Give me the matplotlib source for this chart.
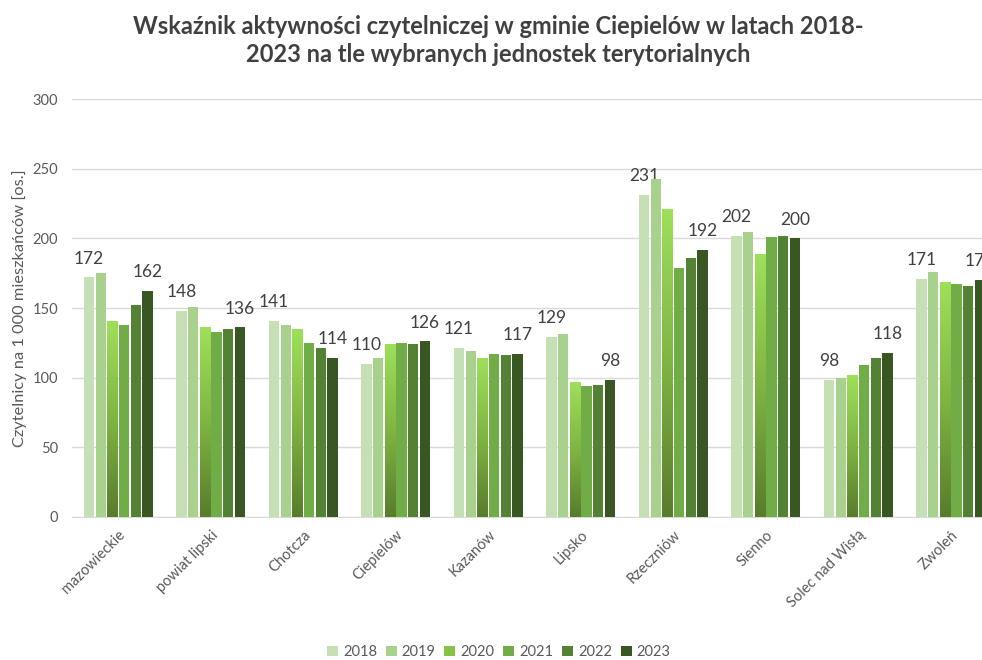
import matplotlib
matplotlib.use("Agg")
import matplotlib.pyplot as plt
import numpy as np
from matplotlib.colors import LinearSegmentedColormap

plt.rcParams['font.family'] = ['Lato', 'DejaVu Sans']

categories = ["mazowieckie", "powiat lipski", "Chotcza", "Ciepielów", "Kazanów",
              "Lipsko", "Rzeczniów", "Sienno", "Solec nad Wisłą", "Zwoleń"]
years = ["2018", "2019", "2020", "2021", "2022", "2023"]
v2018 = [172, 148, 141, 110, 121, 129, 231, 202, 98, 171]
v2019 = [175, 151, 138, 114, 119, 131, 243, 205, 99.5, 176]
v2020 = [140.5, 136, 135, 124, 114, 97, 221, 189, 102, 168.5]
v2021 = [138, 133, 125, 125, 117, 94, 179, 201, 109, 167]
v2022 = [152, 135, 121, 124, 116, 95, 186, 202, 114, 166]
v2023 = [162, 136, 114, 126, 117, 98, 192, 200, 118, 170]
series = [v2018, v2019, v2020, v2021, v2022, v2023]
colors = ["#c5e0b4", "#a9d18e", "#8cc54a", "#70ad47", "#548235", "#385723"]
labeled = {"2018", "2023"}

fig = plt.figure(figsize=(9.82, 6.6), dpi=100)
ax = fig.add_axes([72 / 982, 0.2171, 925 / 982, 0.6324])

x = np.arange(len(categories))
pitch = 0.126
width = 0.112
grad_cmap = LinearSegmentedColormap.from_list("g", ["#587c2c", "#7fb542", "#9ee05a"])
grad = np.linspace(0, 1, 256).reshape(-1, 1)

handles = []
for i, (yr, vals) in enumerate(zip(years, series)):
    pos = x + (i - 2.5) * pitch
    bars = ax.bar(pos, vals, width=width, color=colors[i], zorder=3, label=yr,
                  edgecolor="none")
    handles.append(bars)
    if yr == "2020":
        for b in bars:
            x0, w, h = b.get_x(), b.get_width(), b.get_height()
            im = ax.imshow(grad, extent=[x0, x0 + w, 0, h], origin="lower",
                           cmap=grad_cmap, aspect="auto", zorder=4)
            im.set_clip_path(b)
    if yr in labeled:
        for p, v in zip(pos, vals):
            ax.annotate(f"{v:g}", (p, v), xytext=(0, 10), textcoords="offset points",
                        ha="center", va="baseline", fontsize=12.5, color="#404040",
                        annotation_clip=False)

ax.set_xlim(-0.5, len(categories) - 0.5)
ax.set_ylim(0, 300)
ax.set_yticks(np.arange(0, 301, 50))
ax.grid(axis="y", color="#d9d9d9", linewidth=1, zorder=0)
ax.set_axisbelow(True)
for s in ["top", "right", "left"]:
    ax.spines[s].set_visible(False)
ax.spines["bottom"].set_color("#d9d9d9")
ax.tick_params(axis="both", length=0, colors="#595959", labelsize=10.5)
ax.tick_params(axis="y", pad=10)
ax.set_xticks(x)
ax.set_xticklabels(categories, rotation=45, ha="right", rotation_mode="anchor")
ax.tick_params(axis="x", pad=8)
ax.set_ylabel("Czytelnicy na 1 000 mieszkańców [os.]", color="#595959", fontsize=11.8,
              labelpad=4)

fig.text(0.507, 0.978, "Wskaźnik aktywności czytelniczej w gminie Ciepielów w latach 2018-\n"
         "2023 na tle wybranych jednostek terytorialnych",
         ha="center", va="top", fontsize=17, fontweight="bold", color="#404040",
         linespacing=1.3)

leg = fig.legend(handles=handles, labels=years, loc="center", bbox_to_anchor=(0.508, 0.012),
                 ncol=6, frameon=False, fontsize=10.5, handlelength=0.75, handleheight=0.75,
                 handletextpad=0.35, columnspacing=0.6)
for t in leg.get_texts():
    t.set_color("#595959")
leg.legend_handles[2].set_facecolor("#86c246")

fig.savefig("out.png", dpi=100)
